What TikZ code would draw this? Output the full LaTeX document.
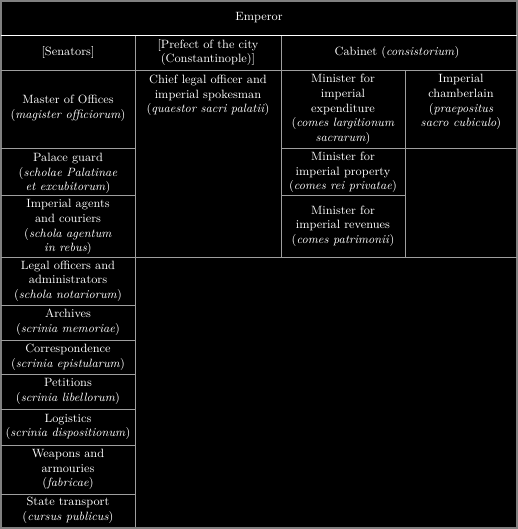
\documentclass[tikz,border=0pt]{standalone}
\definecolor{rule}{gray}{0.62}
\definecolor{frame}{gray}{0.5}
\begin{document}
\begin{tikzpicture}[font=\small,x=.75pt,y=-.75pt,
  cell/.style={align=center,text=white}]

\fill[black] (0,0) rectangle (518,529);
\useasboundingbox (0,0) rectangle (518,529);

% outer frame
\draw[frame,line width=1.5pt] (1,1) rectangle (517,527.5);

\begin{scope}[rule,line width=.75pt]
\draw (135,35) -- (135,527);
\draw (281,35) -- (281,257);
\draw (405,70) -- (405,257);
\draw (1,70) -- (517,70);
\draw (1,257) -- (517,257);
\draw (281,148) -- (517,148);
\draw (281,195) -- (405,195);
\foreach \y in {148,195,305,340,374,409,445,494}
\draw (1,\y) -- (135,\y);
\end{scope}
\draw[white,line width=.75pt] (1,35) -- (517,35);

% heading rows
\node[cell] (emp) at (259,17.5) {Emperor};
\node[cell] (sen) at (68,52.5) {[Senators]};
\node[cell] (pref) at (208,52.5) {[Prefect of the city\\(Constantinople)]};
\node[cell] (cab) at (397,52) {Cabinet (\textit{consistorium})};

% first block
\node[cell] (mag) at (68,108.5) {Master of Offices\\(\textit{magister officiorum})};
\node[cell] (quaest) at (208,95.3) {Chief legal officer and\\imperial spokesman\\(\textit{quaestor sacri palatii})};
\node[cell] (largit) at (343,109.5) {Minister for\\imperial\\expenditure\\(\textit{comes largitionum}\\\textit{sacrarum})};
\node[cell] (praep) at (461,102.3) {Imperial\\chamberlain\\(\textit{praepositus}\\\textit{sacro cubiculo})};

\node[cell] (schol) at (68,173.5) {Palace guard\\(\textit{scholae Palatinae}\\\textit{et excubitorum})};
\node[cell] (privat) at (343,172.5) {Minister for\\imperial property\\(\textit{comes rei privatae})};

\node[cell] (agent) at (68,227) {Imperial agents\\and couriers\\(\textit{schola agentum}\\\textit{in rebus})};
\node[cell] (patrim) at (343,226) {Minister for\\imperial revenues\\(\textit{comes patrimonii})};

% offices below
\node[cell] (notar) at (68,281) {Legal officers and\\administrators\\(\textit{schola notariorum})};

\foreach \y/\t/\l [count=\i] in {322.5/Archives/memoriae,357/Correspondence/epistularum,
  391.5/Petitions/libellorum,427/Logistics/dispositionum}
\node[cell] (scr\i) at (68,\y) {\t\\(\textit{scrinia \l})};

\node[cell] (fabr) at (68,469.5) {Weapons and\\armouries\\(\textit{fabricae})};
\node[cell] (curs) at (68,510.5) {State transport\\(\textit{cursus publicus})};
\end{tikzpicture}
\end{document}
